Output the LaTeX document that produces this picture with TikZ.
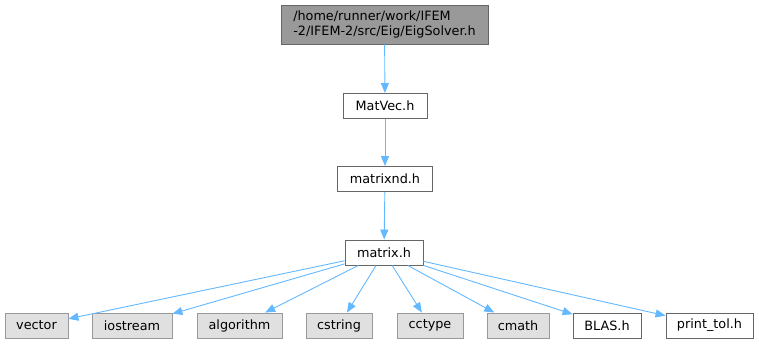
\documentclass[tikz,border=0pt]{standalone}
\usepackage{fontspec}
\setmainfont{DejaVu Sans}
\usetikzlibrary{arrows.meta}

\definecolor{edgeblue}{HTML}{63B8FF}
\definecolor{topfill}{HTML}{999999}
\definecolor{sysfill}{HTML}{E0E0E0}

\tikzset{
  filebox/.style={draw=black!60, fill=white, line width=0.9pt, minimum height=25pt,
    inner xsep=5pt, font=\fontsize{12.8}{15}\selectfont},
  sysbox/.style={filebox, draw=black!40, fill=sysfill},
  rootbox/.style={filebox, fill=topfill, align=left, minimum height=39pt},
  incl/.style={draw=edgeblue, line width=0.9pt, -{Triangle[length=10pt,width=8pt]}}
}

\begin{document}
\begin{tikzpicture}[x=1pt,y=-1pt]
    % Canvas
    \useasboundingbox (0,0) rectangle (759,344);
    % Header chain
    \node[rootbox, minimum width=207pt] (eigsolver) at (384.5,24.5)
      {/home/runner/work/IFEM\\-2/IFEM-2/src/Eig/EigSolver.h};
    \node[filebox, minimum width=84pt] (matvec) at (385,106) {MatVec.h};
    \node[filebox, minimum width=95pt] (matrixnd) at (385,179) {matrixnd.h};
    \node[filebox, minimum width=78pt] (matrix) at (384,252.5) {matrix.h};
    % Included headers
    \node[sysbox, minimum width=63pt] (vector) at (36.5,325.5) {vector};
    \node[sysbox, minimum width=80pt] (iostream) at (132,325.5) {iostream};
    \node[sysbox, minimum width=85pt] (algorithm) at (239.5,325.5) {algorithm};
    \node[sysbox, minimum width=66pt] (cstring) at (339,325.5) {cstring};
    \node[sysbox, minimum width=66pt] (cctype) at (430,325.5) {cctype};
    \node[sysbox, minimum width=62pt] (cmath) at (518,325.5) {cmath};
    \node[filebox, minimum width=68pt] (blas) at (607,325.5) {BLAS.h};
    \node[filebox, minimum width=87pt] (printtol) at (709.5,325.5) {print\_tol.h};
    % Include arrows
    \draw[incl] (eigsolver) -- (matvec);
    \draw[incl] (matvec) -- (matrixnd);
    \draw[incl] (matrixnd) -- (matrix);
    \foreach \dst in {vector,iostream,algorithm,cstring,cctype,cmath,blas,printtol}
      \draw[incl] (matrix) -- (\dst);
\end{tikzpicture}
\end{document}
